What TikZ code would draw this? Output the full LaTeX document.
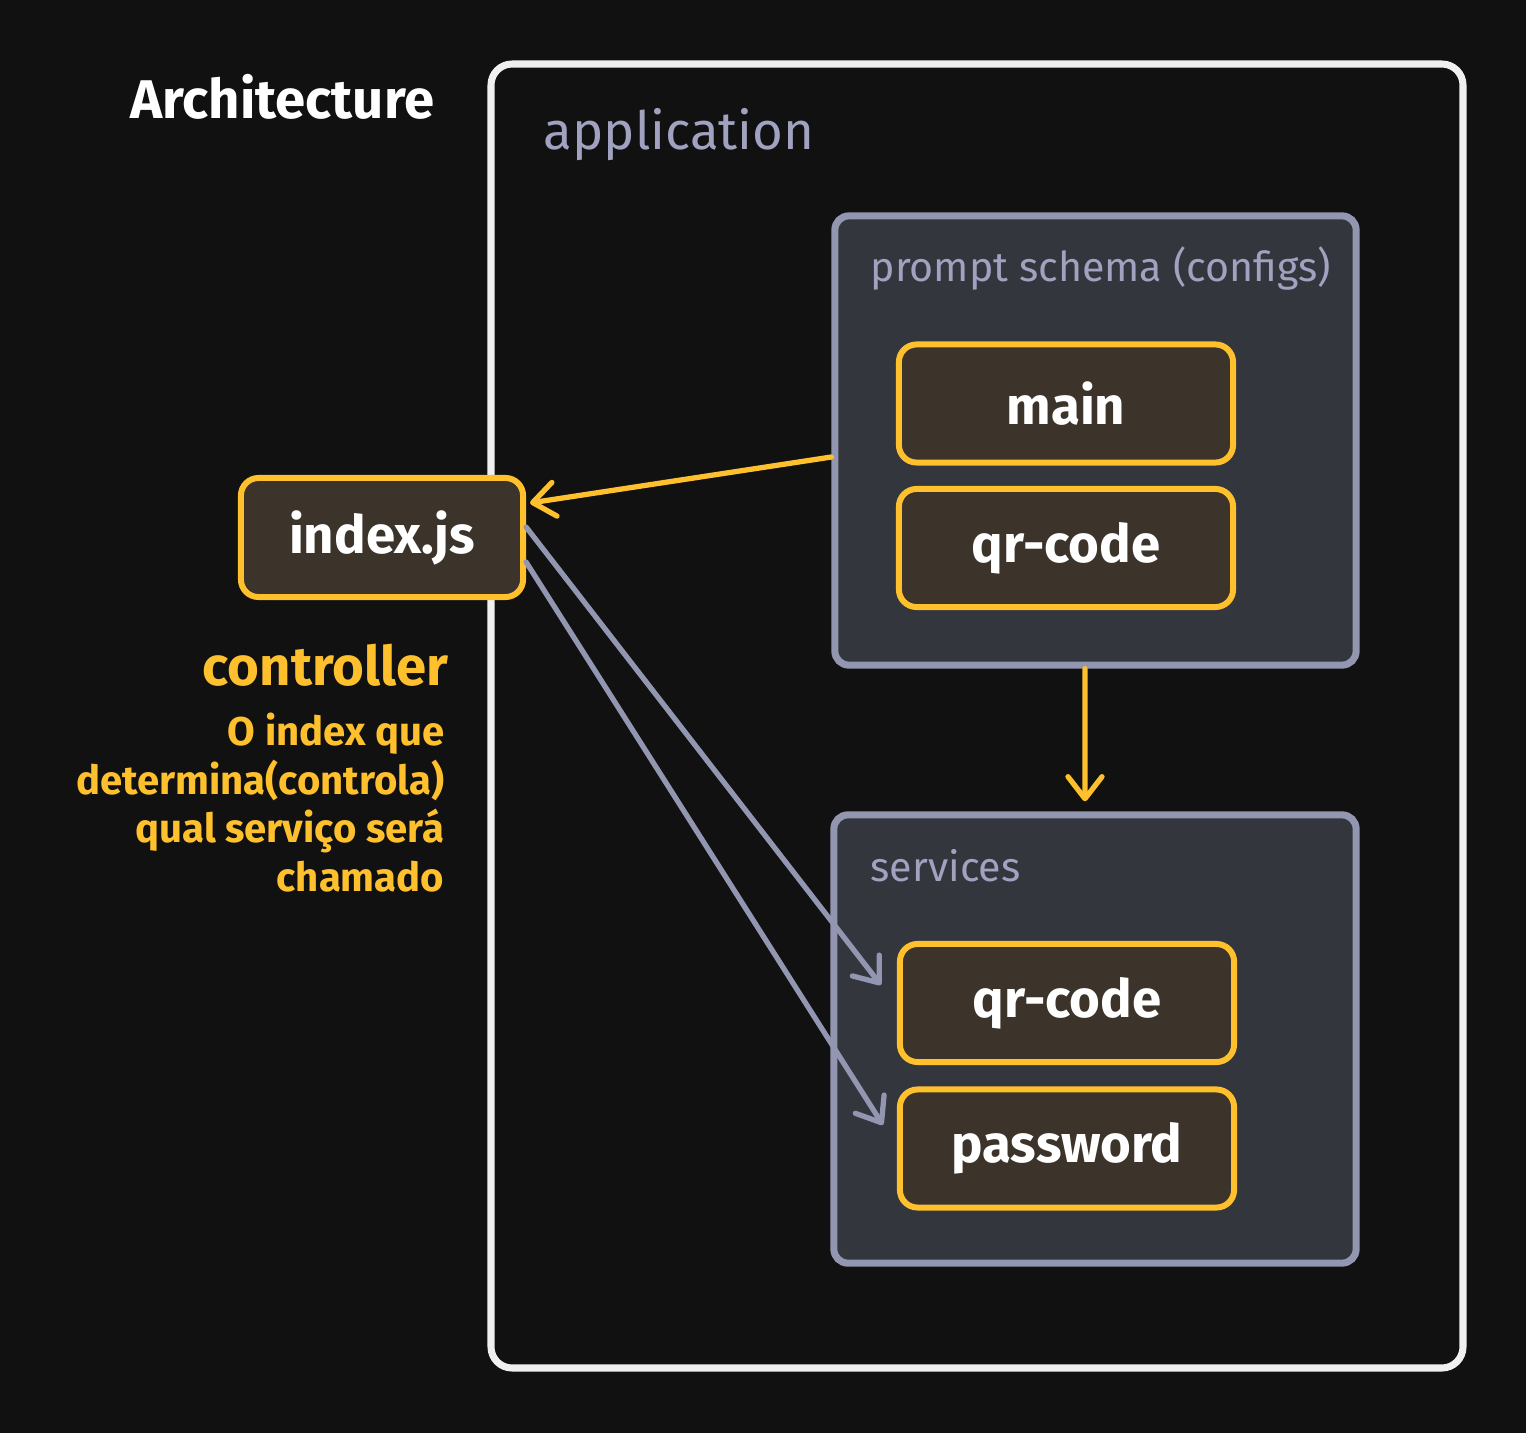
\documentclass[tikz,border=0pt]{standalone}
\usepackage{fontspec}
\setmainfont{Fira Sans}
\usepackage{tikz}
\usetikzlibrary{arrows.meta, positioning, calc}
\definecolor{bgdark}{RGB}{17,17,17}
\definecolor{appframe}{RGB}{240,240,240}
\definecolor{grpfill}{RGB}{51,54,60}
\definecolor{grpedge}{RGB}{147,150,176}
\definecolor{grplabel}{RGB}{160,162,192}
\definecolor{mygold}{RGB}{255,192,46}
\definecolor{blkfill}{RGB}{60,52,42}
\tikzset{
  goldblock/.style={rectangle, draw=mygold, fill=blkfill,
    minimum width=3.34cm, minimum height=1.18cm,
    font=\fontsize{15}{18}\selectfont\bfseries, text=white,
    rounded corners=5pt, line width=1.7pt},
  group/.style={rectangle, draw=grpedge, fill=grpfill,
    rounded corners=4pt, line width=2pt},
  grouplabel/.style={anchor=west, inner sep=0pt, text=grplabel,
    font=\fontsize{11.7}{14}\selectfont},
  goldarrow/.style={-{Straight Barb[round, length=2.2mm, width=3.4mm]},
    line width=1.5pt, color=mygold, line cap=round},
  grayarrow/.style={-{Straight Barb[round, length=2.2mm, width=3.4mm]},
    line width=1.5pt, color=grpedge, line cap=round}
}

\begin{document}
\begin{tikzpicture}[x=0.01cm, y=-0.01cm]
  % Background
  \fill[bgdark] (0,0) rectangle (1526,1433);
  \useasboundingbox (0,0) rectangle (1526,1433);

  % Title
  \node[anchor=east, inner sep=0pt, text=white, font=\fontsize{15.5}{18}\selectfont\bfseries]
    (title) at (435,97) {Architecture};

  % Application frame
  \draw[draw=appframe, line width=2pt, rounded corners=6pt]
    (491,64) rectangle (1463,1368);
  \node[anchor=west, inner sep=0pt, text=grplabel, font=\fontsize{15}{18}\selectfont]
    (applbl) at (543,135) {application};

  % Prompt schema group
  \node[group, minimum width=5.21cm, minimum height=4.49cm] (schema) at (1095.5,440.5) {};
  \node[grouplabel] (schemalbl) at (870,268) {prompt schema (configs)};
  \node[goldblock] (main) at (1066,403.5) {main};
  \node[goldblock] (qrcfg) at (1066,548) {qr-code};

  % Services group
  \node[group, minimum width=5.22cm, minimum height=4.48cm] (services) at (1095,1039) {};
  \node[grouplabel] (serviceslbl) at (870,866) {services};
  \node[goldblock] (qrsvc) at (1067,1003) {qr-code};
  \node[goldblock] (password) at (1067,1148.5) {password};

  % Controller
  \node[goldblock, minimum width=2.82cm, minimum height=1.19cm] (index) at (382,537.5) {index.js};
  \node[anchor=east, inner sep=0pt, text=mygold, font=\fontsize{15.5}{18}\selectfont\bfseries]
    (ctrllbl) at (449,665) {controller};
  \node[anchor=north east, inner sep=0pt, align=right, text=mygold,
    font=\fontsize{11.4}{13.9}\selectfont\bfseries]
    (ctrldesc) at (445,712) {O index que\\determina(controla)\\qual serviço será\\chamado};

  % Connectors
  \draw[goldarrow] ([yshift=-0.165cm]schema.west) -- ([xshift=0.04cm,yshift=0.345cm]index.east);
  \draw[goldarrow] ([xshift=-0.105cm]schema.south) -- ([xshift=-0.1cm,yshift=0.1cm]services.north);
  \draw[grayarrow] ([yshift=0.105cm]index.east) -- ([xshift=-0.16cm,yshift=0.18cm]qrsvc.west);
  \draw[grayarrow] ([yshift=-0.245cm]index.east) -- ([xshift=-0.14cm,yshift=0.235cm]password.west);
\end{tikzpicture}
\end{document}
